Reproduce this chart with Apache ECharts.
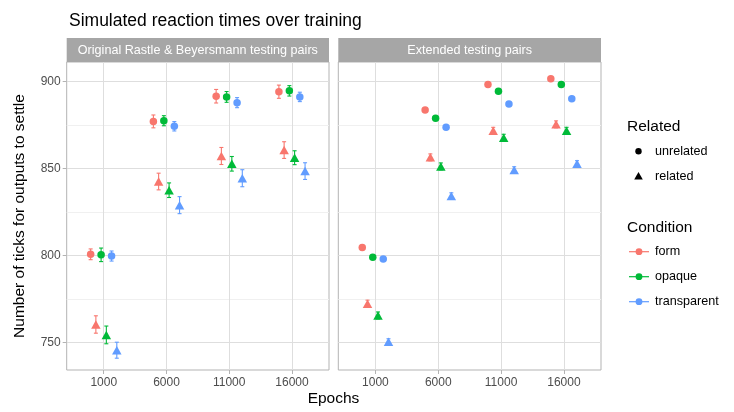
<!DOCTYPE html>
<html>
<head>
<meta charset="utf-8">
<script src="https://cdn.jsdelivr.net/npm/echarts@6/dist/echarts.min.js"></script>
<style>html,body{margin:0;padding:0;background:#fff}#c{width:734px;height:412px}</style>
</head>
<body>
<div id="c"></div>
<script>
// ---- data ----
const epochs = [1000, 6000, 11000, 16000];
const conditions = ['form', 'opaque', 'transparent'];
const relatedLevels = ['unrelated', 'related'];
const panels = ['Original Rastle & Beyersmann testing pairs', 'Extended testing pairs'];
const xTicks = [1000, 6000, 11000, 16000];
const yTicks = [750, 800, 850, 900];
const yMinorTicks = [775, 825, 875];

// rows: form, opaque, transparent ; columns: epochs
const origUnrelMean = [
  [800.6, 877.1, 891.6, 894.2],
  [800.3, 877.5, 891.2, 894.7],
  [799.6, 874.3, 887.9, 891.2]
];
const origUnrelErr = [
  [3.1, 3.7, 3.9, 3.8],
  [3.9, 2.9, 3.1, 3.0],
  [2.9, 2.7, 2.9, 2.7]
];
const origRelMean = [
  [760.2, 842.5, 857.2, 860.6],
  [754.2, 837.5, 852.7, 856.2],
  [745.4, 828.9, 844.4, 848.5]
];
const origRelErr = [
  [5.0, 4.8, 4.9, 4.8],
  [5.1, 4.2, 4.2, 4.0],
  [4.6, 4.9, 4.9, 4.8]
];
const extUnrelMean = [
  [804.5, 883.7, 898.3, 901.6],
  [798.9, 878.9, 894.5, 898.3],
  [797.9, 873.7, 887.1, 890.2]
];
const extUnrelErr = [
  [1.3, 1.3, 1.3, 1.3],
  [1.3, 1.3, 1.3, 1.3],
  [1.1, 1.1, 1.1, 1.1]
];
const extRelMean = [
  [772.2, 856.4, 871.7, 875.4],
  [765.4, 851.2, 867.7, 871.7],
  [750.2, 834.2, 849.2, 852.7]
];
const extRelErr = [
  [2.0, 2.0, 2.0, 2.0],
  [2.0, 2.0, 2.0, 2.0],
  [1.8, 1.8, 1.8, 1.8]
];

// ---- styling / layout ----
const colors = ['#F8766D', '#00BA38', '#619CFF'];
const dodgeStep = 417;
const FONT = 'Liberation Sans, Arial, sans-serif';
const gridBoxes = [
  {left: 66.7, top: 62, width: 262.3, height: 308},
  {left: 338.3, top: 62, width: 262.7, height: 308}
];
const xMin = -1950, xMax = 18950, yMin = 734, yMax = 911.3;

const panelData = [
  [[origUnrelMean, origUnrelErr], [origRelMean, origRelErr]],
  [[extUnrelMean, extUnrelErr], [extRelMean, extRelErr]]
];

const series = [];
panelData.forEach((pd, p) => {
  conditions.forEach((cond, c) => {
    relatedLevels.forEach((rel, r) => {
      const idx = c * 2 + r;
      const off = (idx - 2.5) * dodgeStep;
      const mean = pd[r][0][c], err = pd[r][1][c];
      series.push({
        type: 'custom',
        name: cond + '-' + rel + '-err',
        xAxisIndex: p, yAxisIndex: p,
        silent: true,
        z: 2,
        data: epochs.map((e, i) => [e + off, mean[i] - err[i], mean[i] + err[i]]),
        renderItem: (params, api) => {
          const x = api.value(0);
          const top = api.coord([x, api.value(2)]);
          const bot = api.coord([x, api.value(1)]);
          const w = 2;
          const st = {stroke: colors[c], lineWidth: 1.1};
          return {
            type: 'group',
            children: [
              {type: 'line', shape: {x1: top[0], y1: top[1], x2: bot[0], y2: bot[1]}, style: st},
              {type: 'line', shape: {x1: top[0] - w, y1: top[1], x2: top[0] + w, y2: top[1]}, style: st},
              {type: 'line', shape: {x1: bot[0] - w, y1: bot[1], x2: bot[0] + w, y2: bot[1]}, style: st}
            ]
          };
        }
      });
      series.push({
        type: 'scatter',
        name: cond + '-' + rel,
        xAxisIndex: p, yAxisIndex: p,
        symbol: r === 0 ? 'circle' : 'triangle',
        symbolSize: r === 0 ? 7.5 : [9.5, 8.5],
        itemStyle: {color: colors[c], opacity: 1},
        silent: true,
        z: 3,
        data: epochs.map((e, i) => [e + off, mean[i]])
      });
    });
  });
});

const xAxes = [0, 1].map(i => ({
  type: 'value', gridIndex: i, min: xMin, max: xMax,
  axisLine: {show: false, onZero: false},
  axisTick: {show: true, customValues: xTicks, length: 4, lineStyle: {color: '#b3b3b3'}},
  axisLabel: {customValues: xTicks, color: '#4d4d4d', fontSize: 12, fontFamily: FONT, margin: 7,
    formatter: v => String(v)},
  splitLine: {show: true, lineStyle: {color: '#dedede', width: 1}}
}));

const yAxes = [0, 1].map(i => ({
  type: 'value', gridIndex: i, min: yMin, max: yMax,
  axisLine: {show: false, onZero: false},
  axisTick: {show: i === 0, customValues: yTicks, length: 4, lineStyle: {color: '#b3b3b3'}},
  axisLabel: {show: i === 0, customValues: yTicks, color: '#4d4d4d', fontSize: 12, fontFamily: FONT, margin: 6,
    formatter: v => String(v)},
  splitLine: {show: true, lineStyle: {color: '#dedede', width: 1}},
  name: i === 0 ? 'Number of ticks for outputs to settle' : '',
  nameLocation: 'middle', nameGap: 39,
  nameTextStyle: {color: '#000', fontSize: 15.5, fontFamily: FONT}
})).concat([0, 1].map(i => ({
  type: 'value', gridIndex: i, min: yMin, max: yMax, position: 'left',
  axisLine: {show: false, onZero: false},
  axisTick: {show: false, customValues: yMinorTicks},
  axisLabel: {show: false, customValues: yMinorTicks},
  splitLine: {show: true, lineStyle: {color: '#f0f0f0', width: 1}}
})));

// ---- legend & strips (graphic) ----
const graphic = [];
panels.forEach((label, p) => {
  const g = gridBoxes[p];
  graphic.push({type: 'rect', z: 10, shape: {x: g.left, y: 38, width: g.width, height: 24}, style: {fill: '#a6a6a6'}});
  graphic.push({type: 'text', z: 11, x: g.left + g.width / 2, y: 50.5,
    style: {text: label, fill: '#fff', fontSize: 12.6, fontFamily: FONT, align: 'center', verticalAlign: 'middle'}});
});
graphic.push({type: 'text', x: 333.5, y: 399, style: {text: 'Epochs', fill: '#000', fontSize: 15.5, fontFamily: FONT, align: 'center', verticalAlign: 'middle'}});
graphic.push({type: 'text', x: 627, y: 127, style: {text: 'Related', fill: '#000', fontSize: 15.5, fontFamily: FONT, verticalAlign: 'middle'}});
graphic.push({type: 'circle', shape: {cx: 638.5, cy: 151.3, r: 3.2}, style: {fill: '#000'}});
graphic.push({type: 'polygon', shape: {points: [[638.5, 172], [642.8, 179.5], [634.2, 179.5]]}, style: {fill: '#000'}});
relatedLevels.forEach((t, i) => {
  graphic.push({type: 'text', x: 655, y: 151.5 + i * 25, style: {text: t, fill: '#000', fontSize: 12.6, fontFamily: FONT, verticalAlign: 'middle'}});
});
graphic.push({type: 'text', x: 627, y: 228, style: {text: 'Condition', fill: '#000', fontSize: 15.5, fontFamily: FONT, verticalAlign: 'middle'}});
conditions.forEach((t, i) => {
  const y = 251.7 + i * 25;
  graphic.push({type: 'line', shape: {x1: 629, y1: y, x2: 649, y2: y}, style: {stroke: colors[i], lineWidth: 1.2}});
  graphic.push({type: 'circle', shape: {cx: 639, cy: y, r: 3.4}, style: {fill: colors[i]}});
  graphic.push({type: 'text', x: 655, y: y, style: {text: t, fill: '#000', fontSize: 12.6, fontFamily: FONT, verticalAlign: 'middle'}});
});

const chart = echarts.init(document.getElementById('c'), null, {renderer: 'canvas'});
chart.setOption({
  animation: false,
  backgroundColor: '#fff',
  title: {text: 'Simulated reaction times over training', left: 64, top: 7,
    textStyle: {color: '#000', fontSize: 17.5, fontWeight: 'normal', fontFamily: FONT}},
  grid: gridBoxes.map(g => Object.assign({show: true, borderColor: '#b3b3b3', borderWidth: 1, backgroundColor: 'transparent'}, g)),
  xAxis: xAxes,
  yAxis: yAxes,
  series: series,
  graphic: graphic
});
</script>
</body>
</html>
